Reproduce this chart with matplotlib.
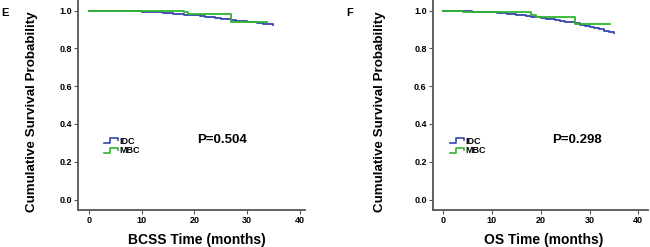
import matplotlib
matplotlib.use("Agg")
import matplotlib.pyplot as plt
from matplotlib.lines import Line2D
from matplotlib.legend_handler import HandlerBase

plt.rcParams["font.family"] = ["Liberation Sans", "DejaVu Sans"]
plt.rcParams["font.weight"] = "bold"

months = list(range(36))

# BCSS panel (E)
bcss_idc_s = [1.000, 1.000, 0.999, 0.999, 0.999, 0.998, 0.998, 0.997, 0.997, 0.996,
              0.995, 0.994, 0.992, 0.990, 0.988, 0.986, 0.984, 0.981, 0.979, 0.976,
              0.974, 0.971, 0.968, 0.964, 0.961, 0.957, 0.954, 0.950, 0.946, 0.943,
              0.940, 0.937, 0.934, 0.931, 0.928, 0.925]
bcss_mbc_t = [0, 18.0, 18.8, 27.0, 28.7, 33.8]
bcss_mbc_s = [1.0, 0.991, 0.981, 0.942, 0.939, 0.939]

# OS panel (F)
os_idc_s = [1.000, 1.000, 0.999, 0.998, 0.997, 0.996, 0.995, 0.994, 0.993, 0.991,
            0.990, 0.988, 0.985, 0.983, 0.980, 0.977, 0.974, 0.971, 0.967, 0.964,
            0.960, 0.957, 0.953, 0.950, 0.946, 0.942, 0.938, 0.932, 0.925, 0.918,
            0.912, 0.906, 0.900, 0.894, 0.889, 0.884]
os_mbc_t = [0, 4.0, 15.0, 18.1, 19.0, 27.1, 34.1]
os_mbc_s = [1.0, 0.995, 0.990, 0.979, 0.967, 0.928, 0.928]

groups = ["IDC", "MBC"]
colors = ["#3345b0", "#2fb52f"]
yticks = [0.0, 0.2, 0.4, 0.6, 0.8, 1.0]
xticks = [0, 10, 20, 30, 40]


class StepHandler(HandlerBase):
    # little step shape like the SPSS legend
    def create_artists(self, legend, orig, xd, yd, w, h, fontsize, trans):
        xs = [xd, xd + 0.45 * w, xd + 0.45 * w, xd + w, xd + w]
        ys = [yd + 0.1 * h, yd + 0.1 * h, yd + 0.9 * h, yd + 0.9 * h, yd + 0.55 * h]
        ln = Line2D(xs, ys, color=orig.get_color(), lw=1.2, transform=trans)
        return [ln]


fig = plt.figure(figsize=(6.5, 2.47), dpi=100)
axL = fig.add_axes([0.12, 0.150, 0.349, 0.850])
axR = fig.add_axes([0.666, 0.150, 0.331, 0.850])

panels = [
    (axL, months, bcss_idc_s, bcss_mbc_t, bcss_mbc_s, "BCSS Time (months)", "P=0.504",
     (25.2, 0.317), (-2.1, 41.0), (-0.176, 0.469), (0.524, -0.11), (0.095, 0.37)),
    (axR, months, os_idc_s, os_mbc_t, os_mbc_s, "OS Time (months)", "P=0.298",
     (27.4, 0.317), (-2.1, 42.0), (-0.219, 0.469), (0.516, -0.11), (0.06, 0.37)),
]

for ax, it, isv, mt, ms, xlab, ptxt, ppos, xlim, ylc, xlc, lgpos in panels:
    l1, = ax.plot(it, isv, drawstyle="steps-post", color=colors[0], lw=1.3)
    l2, = ax.plot(mt, ms, drawstyle="steps-post", color=colors[1], lw=1.3)
    ax.set_xlim(*xlim)
    ax.set_ylim(-0.055, 1.056)
    ax.set_xticks(xticks)
    ax.set_yticks(yticks)
    ax.set_yticklabels([f"{v:.1f}" for v in yticks])
    for s in ["top", "right"]:
        ax.spines[s].set_visible(False)
    for s in ["left", "bottom"]:
        ax.spines[s].set_color("#555555")
        ax.spines[s].set_linewidth(1.3)
    ax.tick_params(length=3, width=0.8, color="#555555", labelsize=6.5, pad=1.5)
    ax.set_xlabel(xlab, fontsize=10, fontweight="bold")
    ax.xaxis.set_label_coords(*xlc)
    ax.set_ylabel("Cumulative Survival Probability", fontsize=9.6, fontweight="bold")
    ax.yaxis.set_label_coords(*ylc)
    ax.text(ppos[0], ppos[1], ptxt, fontsize=9.5, fontweight="bold", ha="center", va="center")
    ax.legend([l1, l2], groups, handler_map={Line2D: StepHandler()},
              loc="upper left", bbox_to_anchor=lgpos, frameon=False,
              fontsize=6.5, handlelength=1.5, handletextpad=0.15, labelspacing=0.05,
              borderpad=0)

fig.text(1 / 650, 1 - 13.5 / 247, "E", fontsize=8, fontweight="bold", va="center")
fig.text(346 / 650, 1 - 13.5 / 247, "F", fontsize=8, fontweight="bold", va="center")

fig.savefig("out.png", dpi=100)
